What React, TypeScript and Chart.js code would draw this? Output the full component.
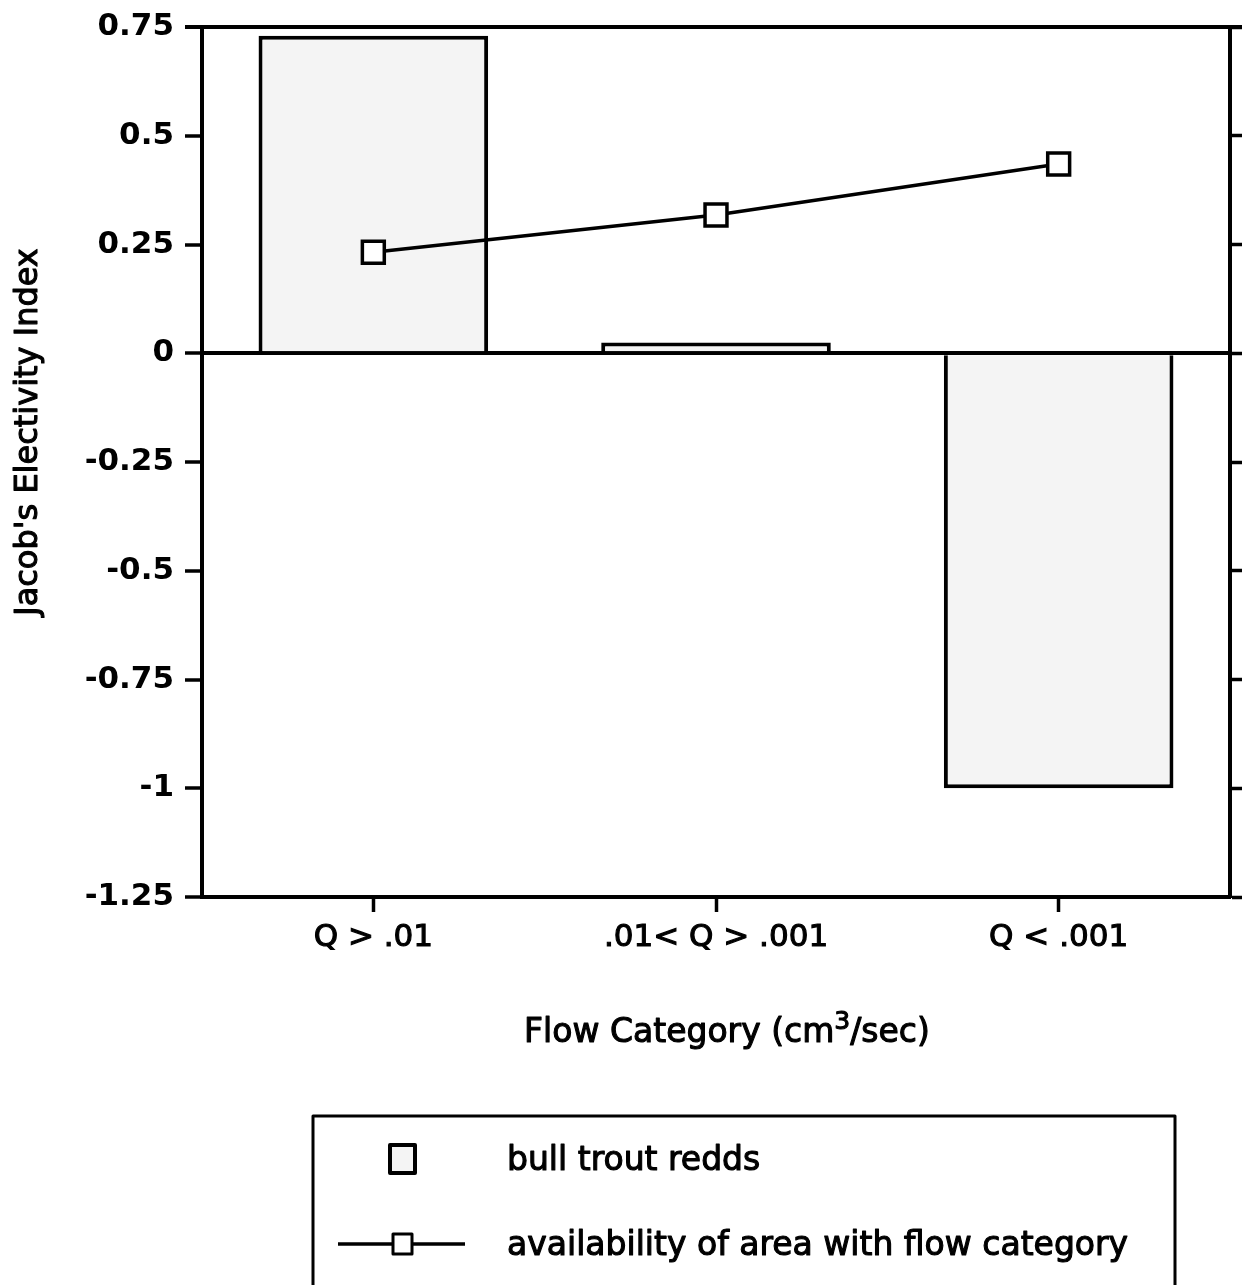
import React, { useEffect, useRef } from 'react';
import { Chart, registerables } from 'chart.js';

Chart.register(...registerables);

const categories = ['Q > .01', '.01< Q > .001', 'Q < .001'];
const reddsValues = [0.73, 0.025, -1.0];
const availabilityValues = [0.232, 0.318, 0.435];
const yTickValues = [0.75, 0.5, 0.25, 0, -0.25, -0.5, -0.75, -1, -1.25];
const yTitle = "Jacob's Electivity Index";
const xTitleMain = 'Flow Category (cm';
const xTitleSup = '3';
const xTitleEnd = '/sec)';
const legendLabels = ['bull trout redds', 'availability of area with flow category'];

const W = 1242;
const H = 1285;
const FONT = '"DejaVu Sans", sans-serif';
const BAR_FILL = '#f4f4f4';
const TEXT_STROKE = 1.1;

function heavyText(ctx: CanvasRenderingContext2D, s: string, x: number, y: number) {
  ctx.fillText(s, x, y);
  ctx.lineWidth = TEXT_STROKE;
  ctx.strokeText(s, x, y);
}

const decorPlugin = {
  id: 'decor',
  afterDraw(chart: any) {
    const { ctx, chartArea } = chart;
    ctx.save();
    ctx.strokeStyle = '#000';
    ctx.fillStyle = '#000';
    ctx.lineJoin = 'round';

    // top frame line
    ctx.lineWidth = 4;
    ctx.beginPath();
    ctx.moveTo(chartArea.left - 17, chartArea.top);
    ctx.lineTo(W, chartArea.top);
    ctx.stroke();

    // y title
    ctx.save();
    ctx.translate(29, 432);
    ctx.rotate(-Math.PI / 2);
    ctx.font = `32px ${FONT}`;
    ctx.textAlign = 'center';
    ctx.textBaseline = 'middle';
    heavyText(ctx, yTitle, 0, 0);
    ctx.restore();

    // x title with superscript
    const mainFont = `33px ${FONT}`;
    const supFont = `25px ${FONT}`;
    ctx.font = mainFont;
    const w1 = ctx.measureText(xTitleMain).width;
    const w3 = ctx.measureText(xTitleEnd).width;
    ctx.font = supFont;
    const w2 = ctx.measureText(xTitleSup).width;
    let x = 727 - (w1 + w2 + w3) / 2;
    const base = 1042;
    ctx.textAlign = 'left';
    ctx.textBaseline = 'alphabetic';
    ctx.font = mainFont;
    heavyText(ctx, xTitleMain, x, base);
    x += w1;
    ctx.font = supFont;
    heavyText(ctx, xTitleSup, x, base - 13);
    x += w2;
    ctx.font = mainFont;
    heavyText(ctx, xTitleEnd, x, base);

    // legend box
    ctx.lineWidth = 3;
    ctx.strokeRect(313, 1116, 862, 220);

    // legend item 1: bar swatch
    ctx.fillStyle = BAR_FILL;
    ctx.fillRect(390, 1145, 25, 28);
    ctx.lineWidth = 4;
    ctx.strokeRect(390, 1145, 25, 28);

    // legend item 2: line with square marker
    ctx.lineWidth = 3.5;
    ctx.beginPath();
    ctx.moveTo(338, 1244);
    ctx.lineTo(465, 1244);
    ctx.stroke();
    ctx.fillStyle = '#fff';
    ctx.lineWidth = 3;
    ctx.fillRect(393, 1234, 19, 20);
    ctx.strokeRect(393, 1234, 19, 20);

    ctx.fillStyle = '#000';
    ctx.font = `33px ${FONT}`;
    ctx.textAlign = 'left';
    ctx.textBaseline = 'alphabetic';
    heavyText(ctx, legendLabels[0], 507, 1170);
    heavyText(ctx, legendLabels[1], 507, 1255);

    ctx.restore();
  },
};

export default function App() {
  const canvasRef = useRef<HTMLCanvasElement | null>(null);

  useEffect(() => {
    if (!canvasRef.current) return;
    const chart = new Chart(canvasRef.current, {
      type: 'bar',
      data: {
        labels: categories,
        datasets: [
          {
            type: 'line',
            label: legendLabels[1],
            data: availabilityValues,
            borderColor: '#000',
            borderWidth: 3.5,
            pointStyle: 'rect',
            pointRadius: 15.5,
            pointBackgroundColor: '#fff',
            pointBorderColor: '#000',
            pointBorderWidth: 3.5,
            tension: 0,
            order: 0,
          } as any,
          {
            type: 'bar',
            label: legendLabels[0],
            data: reddsValues,
            backgroundColor: BAR_FILL,
            borderColor: '#000',
            borderWidth: 4,
            barPercentage: 0.67,
            categoryPercentage: 1.0,
            order: 1,
          },
        ],
      },
      options: {
        responsive: false,
        maintainAspectRatio: false,
        animation: false,
        layout: { autoPadding: false, padding: { top: 27, left: 0, right: 0, bottom: 0 } },
        plugins: {
          legend: { display: false },
          tooltip: { enabled: false },
          title: { display: false },
        },
        scales: {
          x: {
            type: 'category',
            offset: true,
            grid: {
              offset: false,
              drawOnChartArea: false,
              drawTicks: true,
              tickLength: 15,
              tickWidth: 3.5,
              tickColor: '#000',
            },
            border: { display: true, color: '#000', width: 4 },
            ticks: {
              color: '#000',
              font: { family: FONT, size: 31 },
              padding: 7,
              maxRotation: 0,
              autoSkip: false,
              textStrokeColor: '#000',
              textStrokeWidth: TEXT_STROKE,
            },
            afterFit: (scale: any) => {
              scale.height = H - 897;
              scale.paddingLeft = 0;
              scale.paddingRight = 0;
            },
          },
          y: {
            position: 'left',
            min: -1.25,
            max: 0.75,
            afterBuildTicks: (scale: any) => {
              scale.ticks = yTickValues.map((v) => ({ value: v }));
            },
            grid: {
              drawOnChartArea: true,
              color: (c: any) => (c.tick && c.tick.value === 0 ? '#000' : 'rgba(0,0,0,0)'),
              lineWidth: (c: any) => (c.tick && c.tick.value === 0 ? 4 : 0),
              drawTicks: true,
              tickLength: 17,
              tickWidth: 3.5,
              tickColor: '#000',
            },
            border: { display: true, color: '#000', width: 4 },
            ticks: {
              color: '#000',
              font: { family: FONT, size: 31, weight: 'bold' },
              padding: 11,
              callback: (v: any) => String(v),
            },
            afterFit: (scale: any) => {
              scale.width = 202;
              scale.paddingTop = 0;
              scale.paddingBottom = 0;
            },
          },
          y2: {
            position: 'right',
            min: -1.25,
            max: 0.75,
            afterBuildTicks: (scale: any) => {
              scale.ticks = yTickValues.map((v) => ({ value: v }));
            },
            grid: {
              drawOnChartArea: false,
              drawTicks: true,
              tickLength: 14,
              tickWidth: 3.5,
              tickColor: '#000',
            },
            border: { display: true, color: '#000', width: 4 },
            ticks: { display: false },
            afterFit: (scale: any) => {
              scale.width = 12;
              scale.paddingTop = 0;
              scale.paddingBottom = 0;
            },
          },
        },
      } as any,
      plugins: [decorPlugin],
    });
    return () => chart.destroy();
  }, []);

  return (
    <div style={{ position: 'absolute', left: 0, top: 0, width: W, height: H, background: '#fff' }}>
      <canvas ref={canvasRef} width={W} height={H} style={{ width: W, height: H, display: 'block' }} />
    </div>
  );
}
